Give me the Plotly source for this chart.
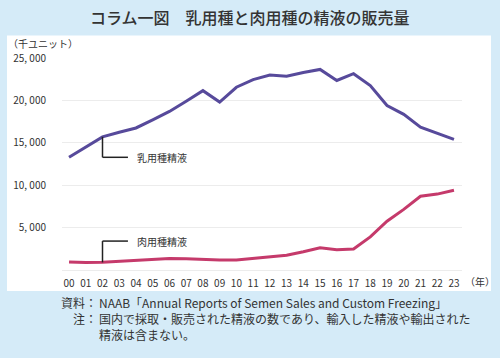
import plotly.graph_objects as go

years = list(range(0, 24))
year_labels = [f"{y:02d}" for y in years]
dairy = [13300, 14500, 15700, 16250, 16750, 17700, 18700, 19900, 21150, 19800,
         21550, 22450, 23000, 22850, 23300, 23650, 22350, 23150, 21750, 19400,
         18350, 16850, 16100, 15400]
beef = [950, 880, 900, 1000, 1100, 1250, 1370, 1330, 1250, 1180,
        1180, 1350, 1600, 1750, 2150, 2620, 2400, 2470, 3900, 5750,
        7150, 8700, 8950, 9400]
y_ticks = [5000, 10000, 15000, 20000, 25000]
y_ticklabels = ["5, 000", "10, 000", "15, 000", "20, 000", "25, 000"]

W, H = 500, 358
L, R, T, B = 62, 38, 57.5, 88
PW, PH = W - L - R, H - T - B

def px(x):
    return (x - L) / PW

def py(y):
    return (H - B - y) / PH

FONT = "Noto Sans CJK JP"
TXT = "#333333"
PURPLE = "#574a9b"
PINK = "#c53a6b"

fig = go.Figure()
fig.add_trace(go.Scatter(x=years, y=dairy, mode="lines", name="乳用種精液",
                         line=dict(color=PURPLE, width=3)))
fig.add_trace(go.Scatter(x=years, y=beef, mode="lines", name="肉用種精液",
                         line=dict(color=PINK, width=3)))

shapes = [
    dict(type="rect", xref="paper", yref="paper", x0=px(7), x1=px(491),
         y0=py(291), y1=py(35), fillcolor="white", line=dict(width=0), layer="below"),
]
# leader lines
lab_x_end = 3.52
dairy_lab_y = 13290
beef_lab_y = 3410
for tipy, laby in [(dairy[2], dairy_lab_y), (beef[2], beef_lab_y)]:
    shapes.append(dict(type="line", x0=2, x1=2, y0=tipy, y1=laby,
                       line=dict(color="#222222", width=1.5)))
    shapes.append(dict(type="line", x0=2, x1=lab_x_end, y0=laby, y1=laby,
                       line=dict(color="#222222", width=1.5)))

FOOT = 12

def foot(text, x, y, anchor):
    return dict(text=text, xref="paper", yref="paper", x=px(x), y=py(y),
                xanchor=anchor, yanchor="middle", showarrow=False, borderpad=0,
                font=dict(size=FOOT, color=TXT, family=FONT))

annotations = [
    dict(text="コラム一図　乳用種と肉用種の精液の販売量", xref="paper", yref="paper",
         x=px(250), y=py(16), xanchor="center", yanchor="middle", showarrow=False,
         font=dict(size=16, color=TXT, family=FONT, weight=500)),
    dict(text="（千ユニット）", xref="paper", yref="paper", x=px(6), y=py(43),
         xanchor="left", yanchor="middle", showarrow=False,
         font=dict(size=10, color=TXT, family=FONT)),
    dict(text="（年）", xref="paper", yref="paper", x=px(463), y=py(282),
         xanchor="left", yanchor="middle", showarrow=False,
         font=dict(size=10, color=TXT, family=FONT)),
    dict(text="乳用種精液", x=3.94, y=dairy_lab_y, xanchor="left", yanchor="middle",
         showarrow=False, font=dict(size=10, color=TXT, family=FONT)),
    dict(text="肉用種精液", x=3.94, y=beef_lab_y, xanchor="left", yanchor="middle",
         showarrow=False, font=dict(size=10, color=TXT, family=FONT)),
    foot("資料：", 98, 303, "right"),
    foot("NAAB「Annual Reports of Semen Sales and Custom Freezing」", 98, 303, "left"),
    foot("注：", 98, 319, "right"),
    foot("国内で採取・販売された精液の数であり、輸入した精液や輸出された", 98, 319, "left"),
    foot("精液は含まない。", 98, 335, "left"),
]

fig.update_layout(
    width=W, height=H,
    margin=dict(l=L, r=R, t=T, b=B),
    paper_bgcolor="#d5ebf8",
    plot_bgcolor="rgba(0,0,0,0)",
    showlegend=False,
    shapes=shapes,
    annotations=annotations,
    xaxis=dict(range=[-0.42, 23.48], tickvals=years, ticktext=year_labels,
               showgrid=False, zeroline=False, showline=False,
               ticks="outside", ticklen=4, tickcolor="rgba(0,0,0,0)",
               tickfont=dict(size=10, color=TXT, family=FONT), fixedrange=True),
    yaxis=dict(range=[0, 25000], tickvals=[0] + y_ticks, ticktext=[""] + y_ticklabels,
               showgrid=True, gridcolor="#ececec", gridwidth=1,
               zeroline=True, zerolinecolor="#ececec", zerolinewidth=1,
               showline=False, ticks="outside", ticklen=13, tickcolor="rgba(0,0,0,0)",
               tickfont=dict(size=10, color=TXT, family=FONT), fixedrange=True),
)

fig.write_html("out.html", config=dict(displayModeBar=False),
               post_script="document.body.style.margin='0';document.body.style.overflow='hidden';")
